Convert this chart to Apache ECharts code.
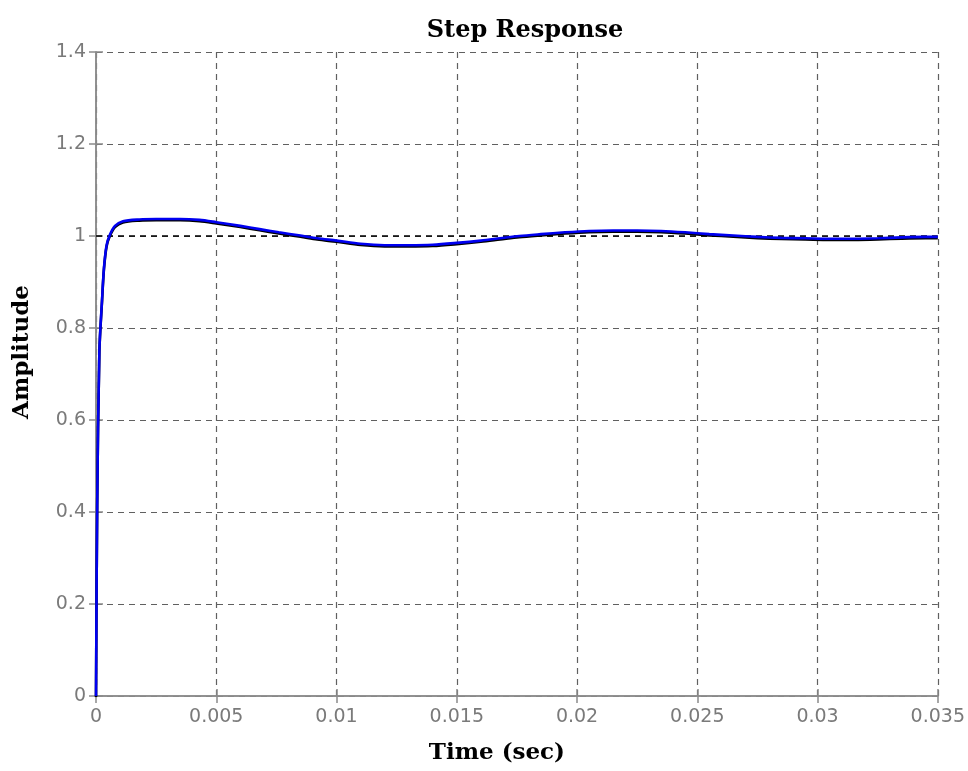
<!DOCTYPE html>
<html>
<head>
<meta charset="utf-8">
<script src="https://cdn.jsdelivr.net/npm/echarts@6/dist/echarts.min.js"></script>
<style>html,body{margin:0;padding:0;background:#fff;}#c{width:968px;height:771px;}</style>
</head>
<body>
<div id="c"></div>
<script>
// Step response samples
var timeSec = [0, 0.00005, 0.00014, 0.00025, 0.00033, 0.00044, 0.00058, 0.00079, 0.00112, 0.0018,
  0.0025, 0.0035, 0.0043, 0.005, 0.006, 0.0068, 0.0076, 0.0085, 0.0092, 0.01,
  0.011, 0.012, 0.013, 0.014, 0.015, 0.016, 0.0168, 0.0176, 0.0185, 0.0195,
  0.0205, 0.0215, 0.0225, 0.0235, 0.0245, 0.0255, 0.0265, 0.0275, 0.0285, 0.0295,
  0.0305, 0.0315, 0.0325, 0.0335, 0.0345, 0.035];
var amplitude = [0, 0.42, 0.75, 0.86, 0.93, 0.98, 1.003, 1.022, 1.032, 1.036,
  1.037, 1.037, 1.035, 1.03, 1.022, 1.015, 1.008, 1.001, 0.995, 0.99,
  0.983, 0.98, 0.98, 0.981, 0.985, 0.99, 0.995, 1.0, 1.004, 1.008,
  1.011, 1.012, 1.012, 1.011, 1.008, 1.004, 1.001, 0.998, 0.996, 0.995,
  0.994, 0.994, 0.995, 0.997, 0.998, 0.998];
var steadyState = 1;
var xTicks = [0, 0.005, 0.01, 0.015, 0.02, 0.025, 0.03, 0.035];
var yTicks = [0, 0.2, 0.4, 0.6, 0.8, 1, 1.2, 1.4];
var titleText = 'Step Response';
var xLabel = 'Time (sec)';
var yLabel = 'Amplitude';

var curve = timeSec.map(function (t, i) { return [t, amplitude[i]]; });
var steadyLine = [[xTicks[0], steadyState], [xTicks[xTicks.length - 1], steadyState]];

var chart = echarts.init(document.getElementById('c'), null, {renderer: 'canvas'});
var axisCol = '#8a8a8a';
var labelStyle = {color: '#7a7a7a', fontFamily: 'DejaVu Sans', fontSize: 19};
var gridLine = {show: true, lineStyle: {color: '#606060', type: [6, 5], width: 1.2}};
var nameFont = {fontFamily: 'DejaVu Serif', fontWeight: 'bold', fontSize: 23, color: '#000'};

chart.setOption({
  backgroundColor: '#fff',
  animation: false,
  title: {
    text: titleText, left: 520, top: 14, textAlign: 'center',
    textStyle: {fontFamily: 'DejaVu Serif', fontWeight: 'bold', fontSize: 24, color: '#000'}
  },
  grid: {left: 96, right: 28, top: 52, bottom: 75, containLabel: false},
  xAxis: [{
    type: 'value', min: 0, max: 0.035, interval: 0.005, position: 'bottom',
    name: xLabel, nameLocation: 'middle', nameGap: 46,
    nameTextStyle: Object.assign({padding: [0, 40, 0, 0]}, nameFont),
    axisLine: {show: true, lineStyle: {color: axisCol, width: 1.5}},
    axisTick: {show: true, inside: true, length: 7, lineStyle: {color: axisCol, width: 1.5}},
    axisLabel: Object.assign({margin: 12, formatter: function (v) { return String(+v.toFixed(4)); }}, labelStyle),
    splitLine: gridLine
  }, {
    type: 'value', min: 0, max: 0.035, interval: 0.005, position: 'top',
    axisLine: {show: true, lineStyle: {color: axisCol, width: 1.5}},
    axisTick: {show: true, inside: true, length: 7, lineStyle: {color: axisCol, width: 1.5}},
    axisLabel: {show: false}, splitLine: {show: false}
  }],
  yAxis: [{
    type: 'value', min: 0, max: 1.4, interval: 0.2, position: 'left',
    name: yLabel, nameLocation: 'middle', nameGap: 62, nameRotate: 90,
    nameTextStyle: Object.assign({padding: [0, 0, 0, 44]}, nameFont),
    axisLine: {show: true, lineStyle: {color: axisCol, width: 1.5}},
    axisTick: {show: true, inside: true, length: 7, lineStyle: {color: axisCol, width: 1.5}},
    axisLabel: Object.assign({margin: 10, formatter: function (v) { return String(+v.toFixed(2)); }}, labelStyle),
    splitLine: gridLine
  }, {
    type: 'value', min: 0, max: 1.4, interval: 0.2, position: 'right',
    axisLine: {show: true, lineStyle: {color: axisCol, width: 1.5}},
    axisTick: {show: true, inside: true, length: 7, lineStyle: {color: axisCol, width: 1.5}},
    axisLabel: {show: false}, splitLine: {show: false}
  }],
  series: [{
    type: 'line', data: steadyLine, showSymbol: false, silent: true,
    lineStyle: {color: '#000', width: 1.3, type: [6, 5]}, z: 2
  }, {
    type: 'line', data: curve, showSymbol: false, smooth: 0.3,
    lineStyle: {color: '#0000f0', width: 2.6, shadowColor: '#000', shadowOffsetY: 1.2, shadowBlur: 0},
    z: 3
  }]
});
</script>
</body>
</html>
